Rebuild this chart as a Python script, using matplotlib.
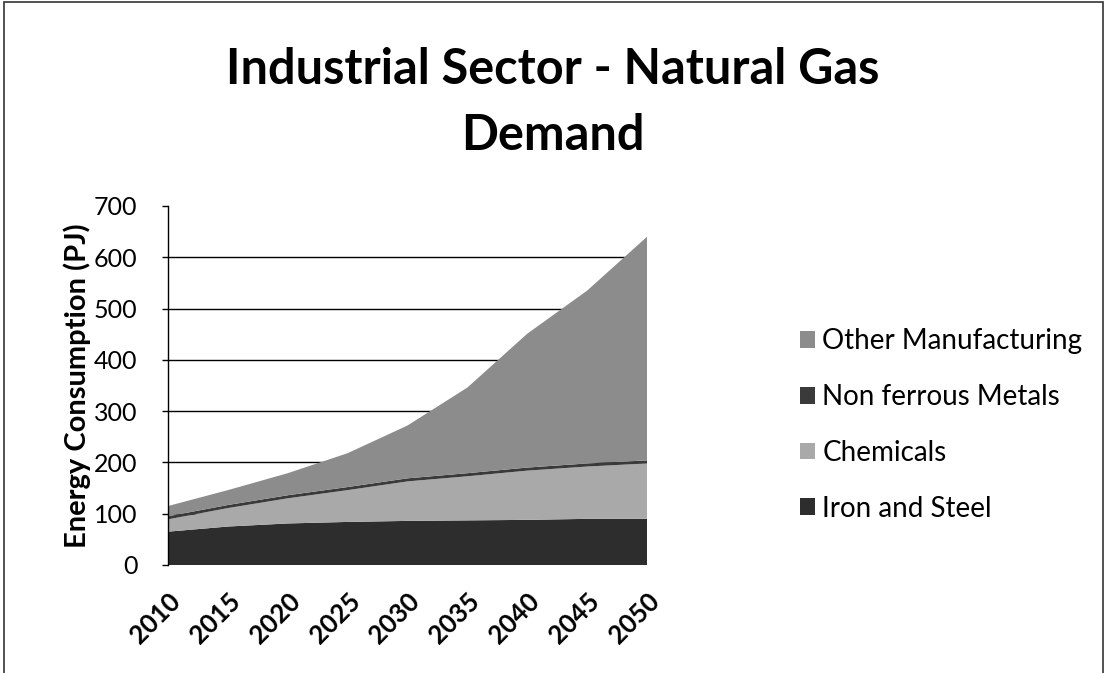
import matplotlib
matplotlib.use("Agg")
import matplotlib.pyplot as plt
from matplotlib.patches import Rectangle
from matplotlib.transforms import ScaledTranslation

years = [2010, 2015, 2020, 2025, 2030, 2035, 2040, 2045, 2050]
iron_steel = [65, 75, 81, 84, 86, 87, 88, 90, 90]
chemicals = [24, 36, 49, 62, 77, 86, 96, 102, 108]
non_ferrous = [6, 6, 6, 6, 6, 6, 6, 6, 6]
other_manuf = [20, 29, 43, 66, 103, 167, 261, 337, 436]

series_names = ["Iron and Steel", "Chemicals", "Non ferrous Metals", "Other Manufacturing"]
colors = ["#2d2d2d", "#a9a9a9", "#3a3a3a", "#8c8c8c"]

plt.rcParams['font.family'] = ['Lato', 'DejaVu Sans']

W, H = 1106, 673
fig = plt.figure(figsize=(W / 100, H / 100), dpi=100)
ax = fig.add_axes([168 / W, 1 - 565 / H, 479 / W, 359 / H])

ax.stackplot(years, iron_steel, chemicals, non_ferrous, other_manuf,
             colors=colors, labels=series_names, zorder=2, linewidth=0)

ax.set_xlim(2010, 2050)
ax.set_ylim(0, 700)
ax.set_yticks(range(0, 701, 100))
ax.set_xticks(years)
ax.set_xticklabels([str(y) for y in years], rotation=45, ha='right', va='top',
                   rotation_mode='anchor', fontsize=18.5, fontweight='bold')
offset = ScaledTranslation(3 / 100, 0, fig.dpi_scale_trans)
for lab in ax.get_xticklabels():
    lab.set_transform(lab.get_transform() + offset)
ax.tick_params(axis='y', labelsize=18, length=4, width=1, direction='out', pad=18)
ax.tick_params(axis='x', length=0, pad=17)
for g in range(100, 601, 100):
    ax.axhline(g, color='black', linewidth=1, zorder=1)
for side in ['top', 'right', 'bottom']:
    ax.spines[side].set_visible(False)
ax.spines['left'].set_linewidth(1)

fig.text(77 / W, 1 - 386 / H, "Energy Consumption (PJ)", rotation=90, ha='center', va='center',
         fontsize=21, fontweight='bold')

fig.text(0.5, 1 - 84 / H, "Industrial Sector - Natural Gas", ha='center', va='baseline',
         fontsize=35, fontweight='bold')
fig.text(0.5, 1 - 150 / H, "Demand", ha='center', va='baseline',
         fontsize=35, fontweight='bold')

handles, labels = ax.get_legend_handles_labels()
leg = ax.legend(handles[::-1], labels[::-1], loc='center left',
                bbox_to_anchor=((800 - 168) / 479, (565 - 425) / 359),
                frameon=False, fontsize=20, handlelength=0.55, handleheight=0.55,
                handletextpad=0.25, labelspacing=1.07, borderpad=0, borderaxespad=0)

fig.patches.append(Rectangle((4 / W, -0.01), (W - 7) / W, 1.01 - 2 / H, transform=fig.transFigure,
                             fill=False, edgecolor='#333333', linewidth=1.2))

fig.savefig("out.png", dpi=100)
